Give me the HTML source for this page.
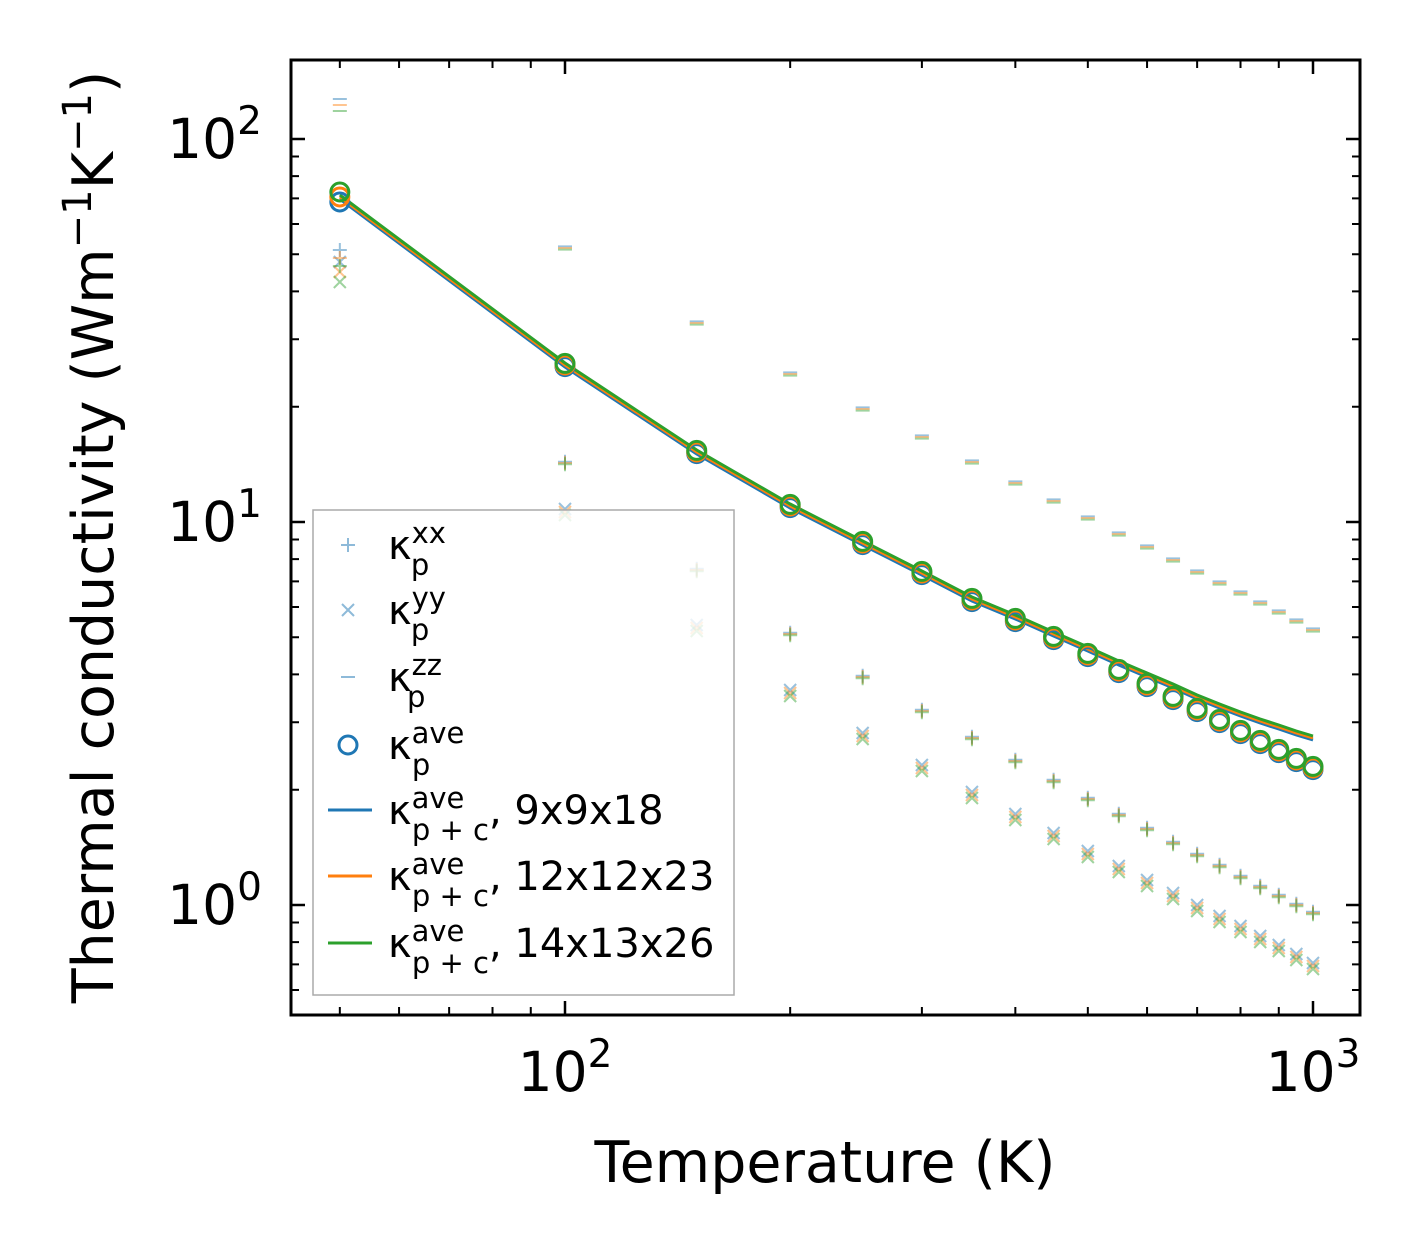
<!DOCTYPE html>
<html><head><meta charset="utf-8"><style>
body{margin:0;background:#fff}
svg{display:block;font-family:"DejaVu Sans","Liberation Sans",sans-serif}
</style></head><body>
<svg id="s" width="1421" height="1254" viewBox="0 0 1421 1254" xmlns="http://www.w3.org/2000/svg"></svg>
<script>
const s=document.getElementById('s');let h='';
const X=t=>565+748*(Math.log10(t)-2);
const Y=v=>905-383*Math.log10(v);
const T=[];for(let t=50;t<=1000;t+=50)T.push(t);
const circ=[197,365,452,506,543,573,600,620,638,655,671,685,698,710,721,732,742,751,760,768];
const line=[197,365,452,506,543,573,599,617,634,649,663,675,686,697,706,714,721,727,733,738];
const zz=[105,248,323,374,409,437,462,483,501,518,534,547,560,572,583,593,603,612,621,630];
const xx=[258,463,570,634,677,711,738,761,781,799,815,829,843,855,866,877,887,896,905,913];
const yy=[272,512,628,693,736,768,795,817,836,854,869,883,896,908,919,929,939,948,957,966];
const C=['#1f77b4','#ff7f0e','#2ca02c'];
C.forEach((c,k)=>{const o=(k-1)*2;
T.forEach((t,i)=>{const x=X(t);
 let y=xx[i]+o*(i==0?4:0.6);h+=`<path d="M${x-7} ${y}h14M${x} ${y-7}v14" stroke="${c}" stroke-width="2" opacity="0.45"/>`;
 y=yy[i]+o*(i==0?5:1.5);h+=`<path d="M${x-6} ${y-6}l12 12M${x-6} ${y+6}l12 -12" stroke="${c}" stroke-width="2" opacity="0.45"/>`;
 y=zz[i]+o*(i==0?3:0.8);h+=`<path d="M${x-7} ${y}h14" stroke="${c}" stroke-width="2" opacity="0.45"/>`;
});});
C.forEach((c,k)=>{const o=(1-k)*2;h+=`<polyline fill="none" stroke="${c}" stroke-width="3" points="${T.map((t,i)=>X(t)+','+(line[i]+o)).join(' ')}"/>`;});
C.forEach((c,k)=>{const o=(1-k)*(2);T.forEach((t,i)=>{const oo=i==0?o*2.5:o*0.8;h+=`<circle cx="${X(t)}" cy="${circ[i]+oo}" r="9" fill="none" stroke="${c}" stroke-width="3"/>`;});});
h+=`<rect x="291" y="60" width="1069" height="955" fill="none" stroke="#000" stroke-width="3"/>`;
[100,1000].forEach(t=>{const x=X(t);h+=`<path d="M${x} 1015v-14M${x} 60v14" stroke="#000" stroke-width="2.5"/>`;});
[50,60,70,80,90,200,300,400,500,600,700,800,900].forEach(t=>{const x=X(t);h+=`<path d="M${x} 1015v-8M${x} 60v8" stroke="#000" stroke-width="2"/>`;});
[1,10,100].forEach(v=>{const y=Y(v);h+=`<path d="M291 ${y}h14M1360 ${y}h-14" stroke="#000" stroke-width="2.5"/>`;});
[0.6,0.7,0.8,0.9,2,3,4,5,6,7,8,9,20,30,40,50,60,70,80,90,200].forEach(v=>{const y=Y(v);if(y>60&&y<1015)h+=`<path d="M291 ${y}h8M1360 ${y}h-8" stroke="#000" stroke-width="2"/>`;});
h+=`<text x="565" y="1091" font-size="55" text-anchor="middle">10<tspan dy="-24" font-size="39">2</tspan></text>`;
h+=`<text x="1313" y="1091" font-size="55" text-anchor="middle">10<tspan dy="-24" font-size="39">3</tspan></text>`;
[[100,'2'],[10,'1'],[1,'0']].forEach(([v,e])=>{h+=`<text x="262" y="${Y(v)+19}" font-size="55" text-anchor="end">10<tspan dy="-24" font-size="39">${e}</tspan></text>`;});
h+=`<text x="825" y="1182" font-size="57" text-anchor="middle">Temperature (K)</text>`;
h+=`<text transform="translate(113,537) rotate(-90)" font-size="57" text-anchor="middle">Thermal conductivity (Wm<tspan dy="-22" font-size="40">−1</tspan><tspan dy="22">K</tspan><tspan dy="-22" font-size="40">−1</tspan><tspan dy="22">)</tspan></text>`;
h+=`<rect x="313" y="510" width="421" height="485" fill="#fff" fill-opacity="0.8" stroke="#aaa" stroke-width="1.5"/>`;
const lab=(y,sup,sub,rest)=>`<text x="388" y="${y+14}" font-size="40">κ<tspan font-size="29" dy="-16">${sup}</tspan><tspan font-size="29" dx="-${sup.length*17.5}" dy="32">${sub}</tspan><tspan dy="-16">${rest}</tspan></text>`;
let y=545,c='#1f77b4';
h+=`<path d="M${348-7} ${y}h14M348 ${y-7}v14" stroke="${c}" stroke-width="2" opacity="0.5"/>`+lab(y,'xx','p','');
y=610;h+=`<path d="M342 ${y-6}l12 12M342 ${y+6}l12 -12" stroke="${c}" stroke-width="2" opacity="0.5"/>`+lab(y,'yy','p','');
y=677;h+=`<path d="M341 ${y}h14" stroke="${c}" stroke-width="2" opacity="0.5"/>`+lab(y,'zz','p','');
y=745;h+=`<circle cx="348" cy="${y}" r="9" fill="none" stroke="${c}" stroke-width="3"/>`+lab(y,'ave','p','');
[[810,'#1f77b4',', 9x9x18'],[876,'#ff7f0e',', 12x12x23'],[943,'#2ca02c',', 14x13x26']].forEach(([y,c,r])=>{
h+=`<path d="M328 ${y}h44" stroke="${c}" stroke-width="3"/>`+lab(y,'ave','p + c',r);});
s.innerHTML=h;
</script>
</body></html>
